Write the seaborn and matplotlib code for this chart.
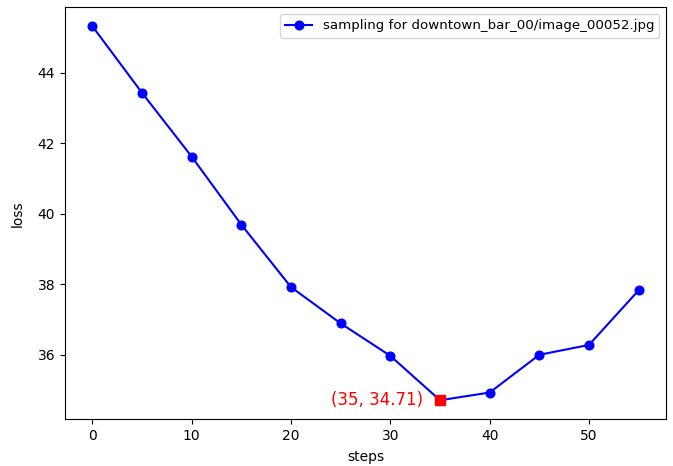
import numpy as np
import pandas as pd
import seaborn as sns
import matplotlib
matplotlib.use("Agg")
import matplotlib.pyplot as plt

# loss per sampling step
steps = [0, 5, 10, 15, 20, 25, 30, 35, 40, 45, 50, 55]
loss = [45.32, 43.43, 41.62, 39.69, 37.92, 36.89, 35.97, 34.71, 34.93, 36.00, 36.28, 37.83]
label = "sampling for downtown_bar_00/image_00052.jpg"

df = pd.DataFrame({"steps": steps, "loss": loss})

fig, ax = plt.subplots(figsize=(6.73, 4.66), dpi=100)
plt.subplots_adjust(left=0.0966, right=0.9896, top=0.984, bottom=0.1009)

sns.lineplot(data=df, x="steps", y="loss", ax=ax, color="blue", marker="o",
             markersize=6.5, markeredgecolor="blue", linewidth=1.5, label=label)

# mark the minimum
i = int(np.argmin(loss))
ax.plot(steps[i], loss[i], marker="s", color="red", markersize=7, linestyle="none")
ax.annotate(f"({steps[i]}, {loss[i]:.2f})", xy=(steps[i], loss[i]),
            xytext=(-12, 0), textcoords="offset points",
            ha="right", va="center", color="red", fontsize=12)

ax.set_xlabel("steps", labelpad=5)
ax.set_ylabel("loss", labelpad=9)
ax.set_xticks([0, 10, 20, 30, 40, 50])
ax.set_yticks([36, 38, 40, 42, 44])
ax.legend(loc="upper right", fontsize=9.6)

plt.savefig("out.png", dpi=100)
